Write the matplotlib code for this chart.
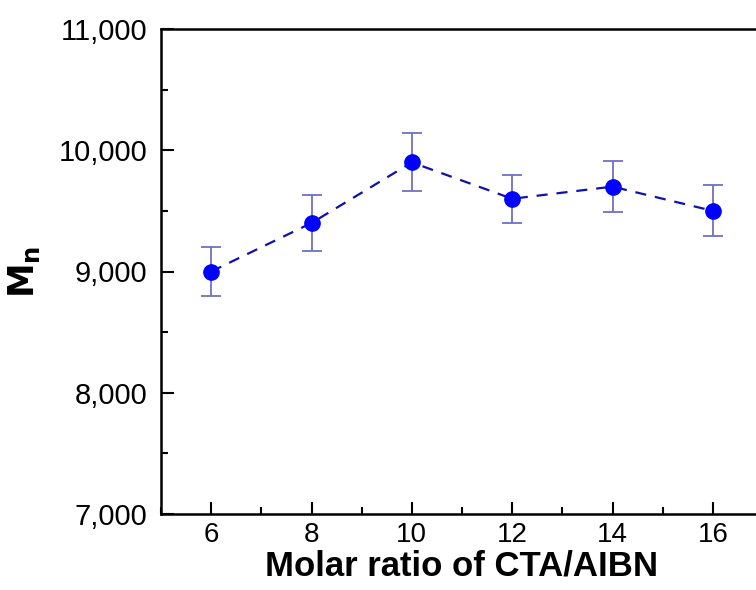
import matplotlib.pyplot as plt
from matplotlib.ticker import FuncFormatter, MultipleLocator

plt.rcParams['font.family'] = ['Liberation Sans', 'DejaVu Sans']

ratio = [6, 8, 10, 12, 14, 16]
mn = [9000, 9400, 9900, 9600, 9700, 9500]
mn_err = [200, 235, 240, 200, 210, 210]

fig = plt.figure(figsize=(7.56, 5.90), dpi=100)
# axes run a little past the right edge, like the cropped original
ax = fig.add_axes([161 / 756, 1 - 514 / 590, (763 - 161) / 756, (514 - 29) / 590])

ax.errorbar(ratio, mn, yerr=mn_err, fmt='none', ecolor='#6f6fc8',
            elinewidth=1.3, capsize=7, capthick=1.3, zorder=2)
ax.plot(ratio, mn, linestyle=(0, (5, 4)), color='#1010b0', linewidth=1.6,
        marker='o', markersize=11, markerfacecolor='#0000ff',
        markeredgecolor='#0000ff', zorder=3)

ax.set_xlim(5, 17)
ax.set_ylim(7000, 11000)
ax.xaxis.set_major_locator(MultipleLocator(2))
ax.xaxis.set_minor_locator(MultipleLocator(1))
ax.yaxis.set_major_locator(MultipleLocator(1000))
ax.yaxis.set_minor_locator(MultipleLocator(500))
ax.yaxis.set_major_formatter(FuncFormatter(lambda v, p: f'{int(v):,}'))

ax.tick_params(which='major', direction='in', length=9, width=1.5,
               labelsize=21, pad=10)
ax.tick_params(axis='x', which='major', labelsize=20, pad=6)
ax.tick_params(which='minor', direction='in', length=5, width=1.5)
ax.tick_params(top=False, right=False, which='both')
for s in ax.spines.values():
    s.set_linewidth(1.8)

ax.set_xlabel('Molar ratio of CTA/AIBN', fontsize=25, fontweight='bold', labelpad=1)
ax.set_ylabel(r'$\mathbf{M_n}$', fontsize=25, labelpad=12)

fig.savefig('out.png', dpi=100)
